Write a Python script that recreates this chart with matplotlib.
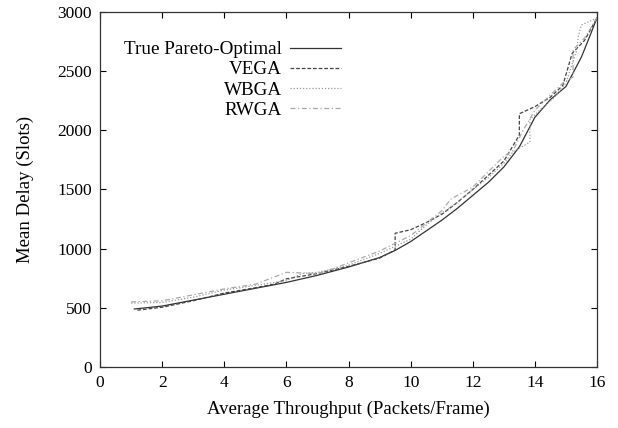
import matplotlib
matplotlib.use("Agg")
import matplotlib.pyplot as plt

plt.rcParams['font.family'] = ['Liberation Serif', 'DejaVu Serif']

# True Pareto-Optimal front
true_x = [1.1, 2, 3, 4, 5, 6, 7, 8, 9, 9.5, 10, 10.5, 11, 11.5, 12, 12.5, 13, 13.5, 14, 14.5, 15, 15.5, 15.7, 16]
true_y = [490, 515, 565, 615, 665, 715, 775, 845, 925, 985, 1060, 1150, 1240, 1340, 1450, 1560, 1690, 1860, 2110, 2260, 2370, 2620, 2750, 2950]

# VEGA
vega_x = [1.2, 2, 3, 4, 5, 5.6, 6, 7, 8, 9, 9.5, 9.5, 10, 10.5, 11, 11.5, 12, 12.5, 13, 13.5, 13.5, 14, 14.5, 14.9, 15.2, 15.6, 16]
vega_y = [480, 505, 560, 625, 670, 700, 745, 790, 850, 920, 990, 1130, 1160, 1220, 1290, 1390, 1500, 1620, 1740, 1960, 2140, 2200, 2280, 2380, 2650, 2760, 2950]

# WBGA
wbga_x = [1.0, 2, 3, 4, 5, 6, 6.5, 7, 8, 9, 10, 10.5, 11, 11.5, 12, 12.5, 13, 13.3, 13.84, 13.84, 14.2, 14.6, 15.0, 15.35, 15.4, 15.5, 16]
wbga_y = [540, 545, 590, 650, 690, 730, 790, 800, 860, 960, 1080, 1200, 1300, 1390, 1500, 1600, 1720, 1820, 1900, 2090, 2180, 2270, 2400, 2680, 2800, 2890, 2950]

# RWGA
rwga_x = [1.0, 2, 3, 4, 5, 6, 7, 7.5, 8, 9, 10, 11, 11.3, 12, 12.5, 13, 13.3, 13.6, 14, 14.5, 14.9, 15.23, 15.23, 15.6, 16]
rwga_y = [550, 560, 610, 660, 700, 800, 790, 830, 880, 980, 1110, 1320, 1420, 1520, 1650, 1780, 1830, 1990, 2170, 2300, 2400, 2450, 2680, 2780, 2950]

fig = plt.figure(figsize=(6.18, 4.28), dpi=100)
ax = fig.add_axes([0.162, 0.1425, 0.804, 0.8295])

ax.plot(true_x, true_y, color='#333333', lw=0.9, ls='-', label='True Pareto-Optimal')
ax.plot(vega_x, vega_y, color='#444444', lw=0.9, ls=(0, (3, 1.5)), label='VEGA')
ax.plot(wbga_x, wbga_y, color='#999999', lw=0.9, ls=(0, (1, 1.5)), label='WBGA')
ax.plot(rwga_x, rwga_y, color='#aaaaaa', lw=0.9, ls=(0, (4, 2, 1, 2)), label='RWGA')

ax.set_xlim(0, 16)
ax.set_ylim(0, 3000)
ax.set_xticks(range(0, 17, 2))
ax.set_yticks(range(0, 3001, 500))
ax.tick_params(direction='in', top=True, right=True, labelsize=12.5, length=4, width=0.8, pad=6)
for s in ax.spines.values():
    s.set_linewidth(0.9)
    s.set_color('#333333')

ax.set_xlabel('Average Throughput (Packets/Frame)', fontsize=13.5, labelpad=7)
ax.set_ylabel('Mean Delay (Slots)', fontsize=13.5, labelpad=17)

leg = ax.legend(loc='upper left', frameon=False, markerfirst=False, fontsize=13.8,
                handlelength=2.7, handletextpad=0.4, labelspacing=0.14,
                borderaxespad=0.0, bbox_to_anchor=(0.033, 0.94))
for t in leg.get_texts():
    t.set_ha('right')
leg._legend_box.align = 'right'

fig.savefig('out.png', dpi=100)
